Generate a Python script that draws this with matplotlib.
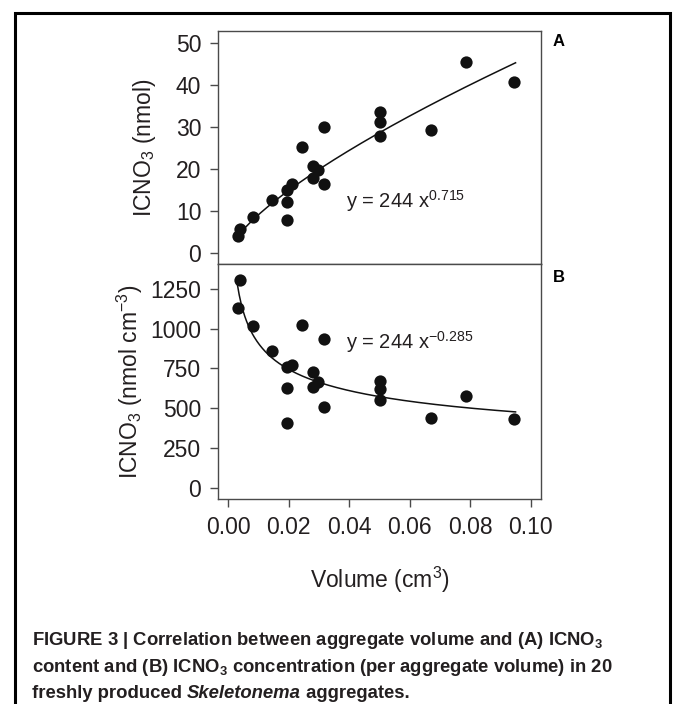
import numpy as np
import matplotlib
matplotlib.use("Agg")
import matplotlib.pyplot as plt
from matplotlib.lines import Line2D

# ---------------- data ----------------
volume = [0.0031, 0.0040, 0.0081, 0.0143, 0.0193, 0.0193, 0.0193, 0.0211,
          0.0244, 0.0280, 0.0280, 0.0298, 0.0318, 0.0318, 0.0501, 0.0501,
          0.0501, 0.0670, 0.0785, 0.0944]
icno3_content = [3.9, 5.7, 8.5, 12.5, 7.9, 12.1, 14.9, 16.5,
                 25.3, 20.7, 17.9, 19.7, 30.1, 16.3, 33.7, 31.1,
                 27.8, 29.3, 45.5, 40.7]
volume_b = [0.0040, 0.0031, 0.0081, 0.0143, 0.0193, 0.0211, 0.0193, 0.0193,
            0.0244, 0.0280, 0.0298, 0.0280, 0.0318, 0.0318, 0.0501, 0.0501,
            0.0501, 0.0670, 0.0785, 0.0944]
icno3_conc = [1306, 1131, 1017, 858, 756, 771, 625, 406,
              1025, 729, 667, 631, 935, 506, 673, 619,
              552, 437, 579, 431]
fit_coef = 244
fit_exp_a = 0.715
fit_exp_b = -0.285
fit_range = (0.0030, 0.095)

yticks_a = [0, 10, 20, 30, 40, 50]
yticks_b = [0, 250, 500, 750, 1000, 1250]
xticks = [0.00, 0.02, 0.04, 0.06, 0.08, 0.10]

# ---------------- style ----------------
plt.rcParams['font.family'] = ['Liberation Sans', 'DejaVu Sans']
plt.rcParams['mathtext.fontset'] = 'custom'
plt.rcParams['mathtext.rm'] = 'Liberation Sans'
plt.rcParams['mathtext.it'] = 'Liberation Sans:italic'
plt.rcParams['mathtext.bf'] = 'Liberation Sans:bold'

TXT = '#231f20'
SPINE = '#4a4a4a'
TICK_FS = 16.5
ANN_FS = 14.5
DOT_S = 78

fig = plt.figure(figsize=(6.73, 7.04), dpi=100)
axA = fig.add_axes([0.3239, 0.6250, 0.4799, 0.3314])
axB = fig.add_axes([0.3239, 0.2912, 0.4799, 0.3338])

xfit = np.linspace(fit_range[0], fit_range[1], 300)

for ax in (axA, axB):
    for s in ax.spines.values():
        s.set_color(SPINE)
        s.set_linewidth(1.0)
    ax.tick_params(axis='both', direction='out', length=6, width=1.0,
                   color=SPINE, labelcolor=TXT, labelsize=TICK_FS, pad=6)
    ax.set_xlim(-0.0034, 0.1034)

axA.scatter(volume, icno3_content, s=DOT_S, color='#111111', zorder=3, linewidths=0)
axA.plot(xfit, fit_coef * xfit ** fit_exp_a, color='#111111', lw=1.1)
axA.set_ylim(-2.7, 53.0)
axA.set_yticks(yticks_a)
axA.set_xticks(xticks)
axA.tick_params(axis='x', bottom=False, labelbottom=False)
axA.set_ylabel('ICNO$_3$ (nmol)', fontsize=TICK_FS, color=TXT)
axA.yaxis.set_label_coords(-0.185, 0.5)
axA.text(0.0388, 10.6, 'y = 244 x$^{0.715}$', fontsize=ANN_FS, color=TXT,
         ha='left', va='baseline')
axA.text(1.037, 0.984, 'A', transform=axA.transAxes, fontsize=12,
         fontweight='bold', ha='left', va='top', color='black')

axB.scatter(volume_b, icno3_conc, s=DOT_S, color='#111111', zorder=3, linewidths=0)
axB.plot(xfit, fit_coef * xfit ** fit_exp_b, color='#111111', lw=1.1)
axB.set_ylim(-69, 1405)
axB.set_yticks(yticks_b)
axB.set_xticks(xticks)
axB.set_xticklabels([f'{v:.2f}' for v in xticks])
axB.set_ylabel('ICNO$_3$ (nmol cm$^{-3}$)', fontsize=TICK_FS, color=TXT)
axB.yaxis.set_label_coords(-0.226, 0.5)
axB.set_xlabel('Volume (cm$^3$)', fontsize=TICK_FS, color=TXT, labelpad=19)
axB.text(0.0388, 876, 'y = 244 x$^{-0.285}$', fontsize=ANN_FS, color=TXT,
         ha='left', va='baseline')
axB.text(1.037, 0.976, 'B', transform=axB.transAxes, fontsize=12,
         fontweight='bold', ha='left', va='top', color='black')

# outer frame (open at the bottom)
W, H = 673.0, 704.0
frame_x = [14.7 / W, 14.7 / W, 669.5 / W, 669.5 / W]
frame_y = [-0.05, 1 - 12.7 / H, 1 - 12.7 / H, -0.05]
fig.add_artist(Line2D(frame_x, frame_y, transform=fig.transFigure,
                      color='black', lw=2.2, clip_on=False,
                      solid_joinstyle='miter'))

# caption
CAP_FS = 13.3
cap_font = ['Liberation Sans', 'DejaVu Sans']
x0 = 32 / W
lines_y = [645, 672, 698]
fig.text(x0, 1 - lines_y[0] / H,
         r'FIGURE 3 | Correlation between aggregate volume and (A) ICNO$_\mathbf{3}$',
         fontsize=CAP_FS, fontweight='bold', color=TXT, family=cap_font,
         ha='left', va='baseline')
fig.text(x0, 1 - lines_y[1] / H,
         r'content and (B) ICNO$_\mathbf{3}$ concentration (per aggregate volume) in 20',
         fontsize=CAP_FS, fontweight='bold', color=TXT, family=cap_font,
         ha='left', va='baseline')

renderer = fig.canvas.get_renderer()
parts = [('freshly produced ', 'normal'), ('Skeletonema', 'italic'), (' aggregates.', 'normal')]
xpos = x0
for txt, style in parts:
    t = fig.text(xpos, 1 - lines_y[2] / H, txt, fontsize=CAP_FS, fontweight='bold',
                 style=style, color=TXT, family=cap_font, ha='left', va='baseline')
    bb = t.get_window_extent(renderer=renderer)
    xpos += bb.width / W

fig.savefig('out.png', dpi=100)
